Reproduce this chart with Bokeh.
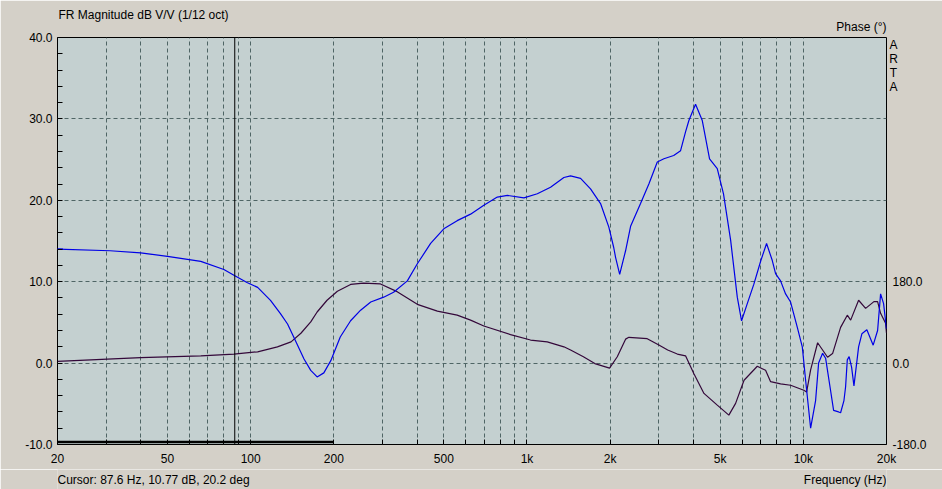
from bokeh.plotting import figure
from bokeh.layouts import column
from bokeh.models import (Range1d, FixedTicker, Label, Span, PrintfTickFormatter,
                          Title, LinearAxis)
from bokeh.embed import file_html
from bokeh.resources import INLINE

# ---- data ----
mag_freq = [20, 31, 40, 50, 66, 80, 87, 97, 106, 118, 128, 136, 145, 156, 165, 174,
            184, 195, 211, 230, 250, 272, 303, 329, 369, 401, 448, 500, 559, 625,
            698, 781, 850, 975, 1090, 1217, 1360, 1438, 1563, 1698, 1846, 1978,
            2060, 2092, 2165, 2274, 2371, 2576, 2761, 2962, 3130, 3396, 3596, 3748,
            3854, 4074, 4309, 4578, 4882, 5142, 5457, 5768, 5978, 6269, 6623, 7020,
            7362, 7722, 7936, 8274, 8627, 8994, 9512, 9915, 10194, 10628, 11078,
            11360, 11744, 12040, 12554, 12870, 13418, 13644, 14030, 14224, 14426,
            14650, 14952, 15250, 15852, 16290, 16980, 17900, 18570, 19040, 19520,
            20000]
mag_db = [14.0, 13.8, 13.55, 13.1, 12.5, 11.5, 10.8, 9.9, 9.3, 7.7, 6.1, 4.8, 2.8,
          0.5, -0.9, -1.7, -1.2, 0.3, 3.2, 5.2, 6.5, 7.5, 8.1, 8.7, 10.1, 12.2,
          14.7, 16.5, 17.5, 18.3, 19.4, 20.4, 20.6, 20.3, 20.8, 21.6, 22.8, 23.0,
          22.7, 21.4, 19.6, 16.7, 14.2, 13.0, 10.9, 13.8, 16.8, 19.6, 22.0, 24.7,
          25.1, 25.5, 26.1, 28.4, 29.8, 31.8, 29.8, 25.1, 23.9, 20.8, 15.1, 8.1,
          5.2, 7.3, 9.7, 12.6, 14.7, 12.6, 11.0, 10.1, 8.5, 7.5, 4.4, 2.0, -2.1,
          -8.0, -4.6, 0.0, 1.2, 0.6, -3.4, -5.8, -6.0, -6.1, -4.6, -2.9, 0.4, 0.8,
          -0.5, -2.8, 2.0, 3.6, 4.1, 2.2, 4.0, 8.5, 7.3, 4.2]

phase_freq = [20, 40, 66, 87, 106, 125, 140, 152, 165, 174, 189, 206, 230, 256, 295,
              339, 401, 474, 559, 625, 698, 872, 1030, 1184, 1360, 1438, 1600, 1760,
              1990, 2122, 2274, 2338, 2724, 3001, 3230, 3500, 3748, 4015, 4370,
              4882, 5377, 5688, 6102, 6815, 7302, 7614, 8274, 8994, 10046, 10276,
              10628, 11266, 11744, 12240, 12762, 13644, 14426, 14836, 15852, 16808,
              18010, 18570, 19042, 19848, 20000]
phase_deg = [4, 12, 16, 20, 25, 36, 47, 66, 91, 113, 139, 159, 174, 177, 175, 158,
             130, 115, 106, 95, 82, 63, 51, 47, 36, 29, 14, -1, -11, 14, 53, 57, 54,
             40, 29, 20, 16, -23, -67, -93, -115, -89, -38, -7, -16, -41, -46, -49,
             -60, -64, -15, 45, 29, 13, 21, 79, 106, 95, 139, 121, 136, 136, 110, 88,
             66]

x_major = [20, 50, 100, 200, 500, 1000, 2000, 5000, 10000, 20000]
x_major_labels = ["20", "50", "100", "200", "500", "1k", "2k", "5k", "10k", "20k"]
x_minor = [30, 40, 60, 70, 80, 90, 300, 400, 600, 700, 800, 900,
           3000, 4000, 6000, 7000, 8000, 9000]
y_ticks = [-10, 0, 10, 20, 30, 40]
y_minor = [-8, -6, -4, -2, 2, 4, 6, 8, 12, 14, 16, 18, 22, 24, 26, 28, 32, 34, 36, 38]
phase_ticks = [-180, 0, 180]
phase_labels = ["-180.0", "0.0", "180.0"]
phase_range = (-180, 720)

cursor_freq = 87.6
cursor_text = "Cursor: 87.6 Hz, 10.77 dB, 20.2 deg"
span_freq = [20, 200]
span_level = [-9.7, -9.7]

FONT = "Liberation Sans"
BG = "#d4d0c8"
PLOT_BG = "#c4d0d0"
GRID = "#4f6565"

p = figure(width=942, height=469, x_axis_type="log",
           x_range=Range1d(20, 20000), y_range=Range1d(-10, 40),
           min_border_left=57, min_border_right=56, min_border_top=37,
           min_border_bottom=25, output_backend="svg", toolbar_location=None)
p.extra_y_ranges = {"phase": Range1d(*phase_range)}
p.background_fill_color = PLOT_BG
p.border_fill_color = BG
p.outline_line_color = "black"
p.outline_line_width = 1

p.title = Title(text="FR Magnitude dB V/V (1/12 oct)", align="left",
                text_font=FONT, text_font_size="12px", text_font_style="normal",
                text_color="black", standoff=4, offset=1)

# axes
xa = p.xaxis[0]
xa.ticker = FixedTicker(ticks=x_major, minor_ticks=x_minor)
xa.major_label_overrides = {t: l for t, l in zip(x_major, x_major_labels)}
ya = p.yaxis[0]
ya.ticker = FixedTicker(ticks=y_ticks, minor_ticks=y_minor)
ya.formatter = PrintfTickFormatter(format="%.1f")
ra = LinearAxis(y_range_name="phase", ticker=FixedTicker(ticks=phase_ticks),
                major_label_overrides={t: l for t, l in zip(phase_ticks, phase_labels)})
p.add_layout(ra, "right")
for ax in (xa, ya, ra):
    ax.axis_line_color = None
    ax.major_tick_out = 0
    ax.minor_tick_out = 0
    ax.major_tick_in = 5
    ax.minor_tick_in = 5
    ax.major_tick_line_color = "black"
    ax.minor_tick_line_color = "black"
    ax.major_label_text_font = FONT
    ax.major_label_text_font_size = "12px"
    ax.major_label_text_color = "black"
ra.major_tick_in = 0
ra.major_label_standoff = 6
xa.major_label_standoff = 7
ya.major_label_standoff = 5

# grid
p.xgrid.ticker = FixedTicker(ticks=[t for t in x_major + x_minor if 20 < t < 20000])
p.ygrid.ticker = FixedTicker(ticks=y_ticks)
for g in (p.xgrid[0], p.ygrid[0]):
    g.grid_line_color = GRID
    g.grid_line_dash = "4 3"
    g.grid_line_width = 1

# curves
p.line(phase_freq, phase_deg, y_range_name="phase", line_color="#34083a", line_width=1.2)
p.line(mag_freq, mag_db, line_color="#0000e6", line_width=1.2)

# cursor and range marker
p.add_layout(Span(location=cursor_freq, dimension="height", line_color="black", line_width=1))
p.line(span_freq, span_level, line_color="black", line_width=2.5)
p.scatter([mag_freq[0]], [mag_db[0]], marker="dash", size=11, line_color="#0000e6", line_width=1.5)

# texts in side panels
p.add_layout(Label(x=829, y=11, x_units="screen", y_units="screen", text="Phase (°)",
                   text_align="right", text_baseline="middle", text_font=FONT,
                   text_font_size="12px", text_color="black"), "above")
p.add_layout(Label(x=-36, y=379, x_units="screen", y_units="screen", text="A\nR\nT\nA",
                   text_align="center", text_baseline="middle", text_font=FONT,
                   text_font_size="12px", text_color="black", text_line_height=1.0),
             "right")

# bottom status line (its frame is aligned with the chart frame by the column)
q = figure(width=942, height=20, x_range=Range1d(0, 942), y_range=Range1d(0, 20),
           x_axis_location=None, y_axis_location=None, min_border_top=0,
           min_border_bottom=0, min_border_left=57, min_border_right=56,
           output_backend="svg", toolbar_location=None)
q.grid.visible = False
q.outline_line_color = None
q.background_fill_color = BG
q.border_fill_color = BG
for x, t, a in ((0, cursor_text, "left"), (829, "Frequency (Hz)", "right")):
    q.add_layout(Label(x=x, y=10, x_units="screen", y_units="screen", text=t,
                       text_align=a, text_baseline="middle", text_font=FONT,
                       text_font_size="12px", text_color="black"))

open("out.html", "w").write(file_html(column(p, q, spacing=0), INLINE))
